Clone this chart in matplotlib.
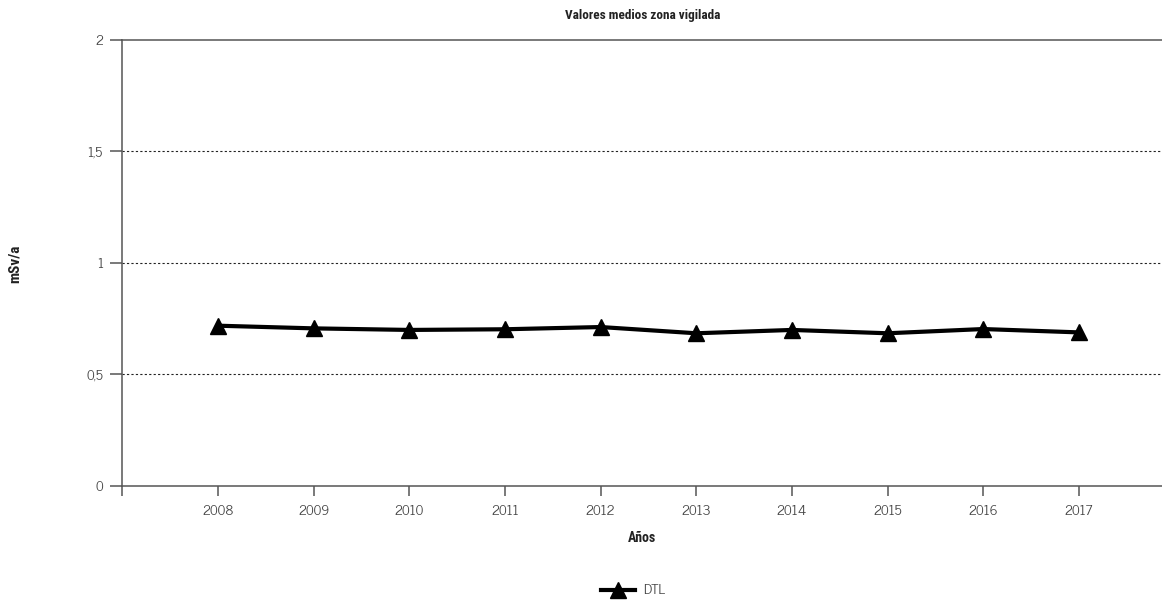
import matplotlib
matplotlib.use("Agg")
import matplotlib.pyplot as plt

# ===== data =====
years = [2008, 2009, 2010, 2011, 2012, 2013, 2014, 2015, 2016, 2017]
dtl = [0.718, 0.706, 0.699, 0.702, 0.712, 0.684, 0.699, 0.684, 0.703, 0.688]
y_ticks = [0, 0.5, 1, 1.5, 2]
y_tick_labels = ['0', '0,5', '1', '1,5', '2']

# News Gothic look-alikes
regular = ['News Cycle', 'Liberation Sans', 'DejaVu Sans']
bold_cond = ['Roboto Condensed', 'Archivo Narrow', 'Liberation Sans', 'DejaVu Sans']
plt.rcParams['font.family'] = regular

fig = plt.figure(figsize=(11.62, 6), dpi=100)
ax = fig.add_axes([0.1054, 0.1905, 0.8946, 0.7428])

ax.plot(years, dtl, color='black', linewidth=3, marker='^', markersize=11.5,
        label='DTL', zorder=3)

ax.set_xlim(2007, 2017.87)
ax.set_ylim(0, 2)
ax.set_xticks([2007] + years)
ax.set_xticklabels([''] + [str(y) for y in years])
ax.set_yticks(y_ticks)
ax.set_yticklabels(y_tick_labels)

# dotted grid at the inner values
for v in y_ticks[1:-1]:
    ax.axhline(v, color='#222222', linewidth=0.8, linestyle=(0, (2, 2)), zorder=1)

axis_col = '#555555'
for side in ['left', 'bottom', 'top']:
    ax.spines[side].set_color(axis_col)
    ax.spines[side].set_linewidth(1.1)
ax.spines['right'].set_visible(False)

ax.tick_params(axis='y', direction='out', length=9, width=1.1, color=axis_col,
               labelcolor='#444444', labelsize=10, pad=5)
ax.tick_params(axis='x', direction='out', length=7, width=1.1, color=axis_col,
               labelcolor='#444444', labelsize=10, pad=7)

ax.set_title('Valores medios zona vigilada', family=bold_cond, fontweight='bold',
             fontsize=9.5, color='#222222', pad=15)
ax.set_xlabel('Años', family=bold_cond, fontweight='bold', fontsize=10,
              color='#222222', labelpad=9)
fig.text(0.013, 0.56, 'mSv/a', rotation=90, ha='center', va='center',
         family=bold_cond, fontweight='bold', fontsize=11, color='#222222')

leg = fig.legend(loc='center', bbox_to_anchor=(0.545, 0.015), frameon=False,
                 fontsize=10, handlelength=2.4, handletextpad=0.6, markerscale=1.0)
for t in leg.get_texts():
    t.set_color('#444444')

fig.savefig('out.png', dpi=100)
